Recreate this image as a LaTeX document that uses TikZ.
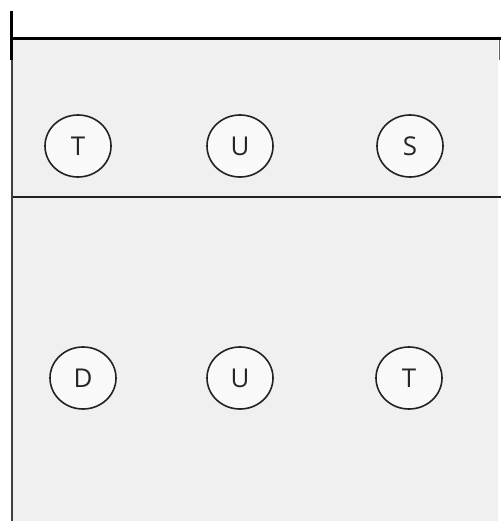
\documentclass[tikz,border=0pt]{standalone}
\usepackage{fontspec}
\setmainfont{Open Sans}
\usetikzlibrary{shapes.geometric}
\definecolor{panel}{HTML}{F0F0F0}
\definecolor{disc}{HTML}{F9F9F9}
\definecolor{edge}{HTML}{222222}
\begin{document}
\begin{tikzpicture}[x=1bp,y=-1bp,
  letter/.style={draw=edge,line width=1.6bp,fill=disc,ellipse,minimum width=66bp,minimum height=62bp,inner sep=0pt,font=\fontsize{26}{26}\selectfont,text=black!85}]
\useasboundingbox (0,0) rectangle (501,521);
\fill[white] (0,0) rectangle (501,521);
\fill[panel] (12,40) rectangle (498,521);
\draw[edge,line width=1.6bp] (12,197) -- (501,197);
\draw[black!75,line width=2bp] (11.5,60) -- (11.5,521);
\draw[black!60,line width=1.5bp] (499.5,40) -- (499.5,60);
\draw[black,line width=3bp] (10,38.5) -- (501,38.5);
\draw[black,line width=3.5bp] (11.5,11) -- (11.5,60);
\node[letter] (t1) at (78,146) {T};
\node[letter] (u1) at (240,146) {U};
\node[letter] (s1) at (410,146) {S};
\node[letter] (d2) at (83,378) {D};
\node[letter] (u2) at (240,378) {U};
\node[letter] (t2) at (409,378) {T};
\end{tikzpicture}
\end{document}
